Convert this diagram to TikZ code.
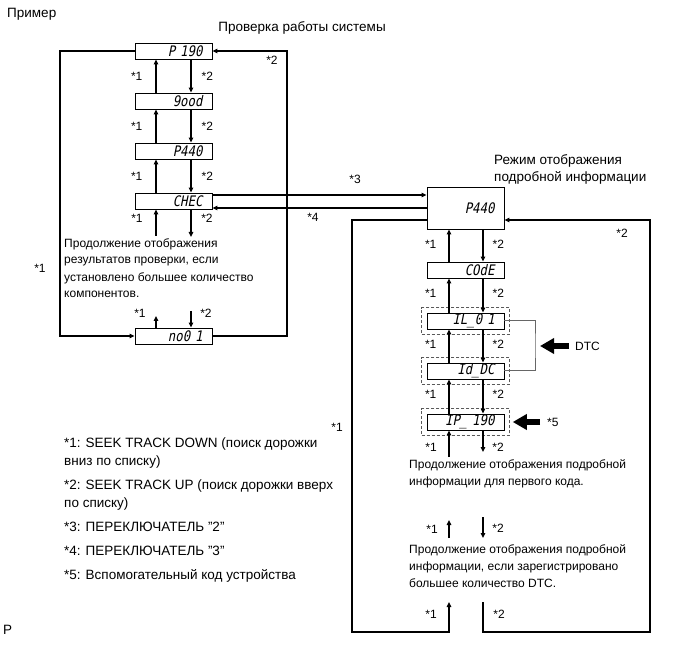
\documentclass[tikz,border=0pt]{standalone}
\usepackage{fontspec}
\setmainfont{Liberation Sans}
\newfontfamily\segfont[FakeSlant=0.2,FakeStretch=0.85]{DejaVu Sans Mono}
\usetikzlibrary{arrows.meta,positioning,fit,calc}

\begin{document}
\begin{tikzpicture}[x=1pt,y=-1pt,
    font=\fontsize{12}{17}\selectfont,
    disp/.style={draw,line width=0.9pt,minimum width=77pt,minimum height=16pt,
      inner sep=0pt,text width=58pt,align=right,
      font=\segfont\fontsize{14.5}{14}\selectfont},
    bigdisp/.style={disp,minimum height=42pt},
    flow/.style={line width=1.3pt,-{Triangle[length=5pt,width=4.5pt]}},
    loopflow/.style={line width=1.5pt,-{Triangle[length=5pt,width=4.5pt]}},
    star/.style={inner sep=0pt},
    head/.style={inner sep=0pt,font=\fontsize{13.5}{17}\selectfont},
    note/.style={inner sep=0pt,anchor=north west,align=left},
    dashbox/.style={draw,gray!70!black,line width=0.6pt,
      dash pattern=on 3pt off 2pt,inner sep=5pt},
    bigarrow/.style={line width=6.5pt,-{Triangle[length=14pt,width=15pt]}},
    bracket/.style={gray!80!black,line width=1pt}]

  \useasboundingbox (0,0) rectangle (691,660);

  % titles
  \node[head,anchor=west] (ex) at (7,14) {Пример};
  \node[head] (systitle) at (302,28) {Проверка работы системы};
  \node[head,note] (dettitle) at (494,154) {Режим отображения\\подробной информации};

  % columns of the up/down arrows
  \coordinate (lu) at (156,0);
  \coordinate (ld) at (191,0);
  \coordinate (ru) at (449,0);
  \coordinate (rd) at (483,0);

  % left column
  \node[disp] (p190) at (173.5,51) {P 190};
  \node[disp] (good) at (173.5,101) {9ood};
  \node[disp] (p440) at (173.5,151) {P440};
  \node[disp] (chec) at (173.5,201) {CHEC};
  \node[disp] (no01) at (173.5,336) {no0 1};

  \foreach \a/\b in {p190/good,good/p440,p440/chec}{
    \draw[flow] (\b.north -| lu) -- node[star,left=13pt]{*1} (\a.south -| lu);
    \draw[flow] (\a.south -| ld) -- node[star,right=10pt]{*2} (\b.north -| ld);
  }

  \coordinate (checu) at (156,236);
  \coordinate (checd) at (191,237);
  \draw[flow] (checu) -- (chec.south -| lu);
  \draw[flow] (chec.south -| ld) -- (checd);
  \node[star] at (137,218) {*1};
  \node[star] at (207,218) {*2};

  \node[note] (leftnote) at (64,238) {Продолжение отображения\\результатов проверки, если\\установлено большее количество\\компонентов.};

  \coordinate (no1u) at (156,316);
  \coordinate (no1d) at (191,311);
  \draw[flow] (no01.north -| lu) -- (no1u);
  \draw[flow] (no1d) -- (no01.north -| ld);
  \node[star] at (140,313) {*1};
  \node[star] at (206,313) {*2};

  % left loop
  \coordinate (lloop) at (60,200);
  \coordinate (rloop) at (287,200);
  \draw[loopflow] (p190.west) -| (lloop) |- (no01.west);
  \draw[loopflow] (no01.east) -| (rloop) |- (p190.east);
  \node[star] at (40,268) {*1};
  \node[star] at (272,60) {*2};

  % detail mode
  \node[bigdisp] (det) at (465.5,208) {P440};
  \draw[flow] ([yshift=6pt]chec.east) -- ([yshift=6pt]chec.east -| det.west);
  \draw[flow] ([yshift=-7pt]chec.east -| det.west) -- ([yshift=-7pt]chec.east);
  \node[star] at (355,179) {*3};
  \node[star] at (313,217) {*4};

  \node[disp] (code) at (465.5,270) {COdE};
  \node[disp] (il01) at (465.5,321) {IL\_0 1};
  \node[disp] (iddc) at (465.5,371) {Id\_DC};
  \node[disp] (ip190) at (465.5,422) {IP\_ 190};
  \node[dashbox,fit=(il01)] (ilf) {};
  \node[dashbox,fit=(iddc)] (idf) {};
  \node[dashbox,fit=(ip190)] (ipf) {};

  \foreach \a/\b in {det/code,code/il01,il01/iddc,iddc/ip190}{
    \draw[flow] (\b.north -| ru) -- node[star,left=12pt,pos=0.55]{*1} (\a.south -| ru);
    \draw[flow] (\a.south -| rd) -- node[star,right=9pt,pos=0.45]{*2} (\b.north -| rd);
  }

  % DTC bracket
  \coordinate (brk) at (535,346);
  \draw[bracket] (il01.east) -| (brk) |- (iddc.east);
  \node[star,anchor=west] (dtc) at (575,346) {DTC};
  \draw[bigarrow,shorten <=6pt,shorten >=5pt] (dtc.west) -- (brk);
  \node[star,anchor=west] (s5) at (547,422) {*5};
  \draw[bigarrow,shorten <=7pt,shorten >=3pt] (s5.west) -- (ipf.east);

  \coordinate (ipu) at (449,457);
  \coordinate (ipd) at (483,452);
  \draw[flow] (ipu) -- (ip190.south -| ru);
  \draw[flow] (ip190.south -| rd) -- (ipd);
  \node[star] at (431,447) {*1};
  \node[star] at (498,447) {*2};

  \node[note] (firstnote) at (409,459) {Продолжение отображения подробной\\информации для первого кода.};

  \coordinate (m1a) at (449,538);
  \coordinate (m1b) at (449,520);
  \coordinate (m2a) at (483,517);
  \coordinate (m2b) at (483,538);
  \draw[flow] (m1a) -- (m1b);
  \draw[flow] (m2a) -- (m2b);
  \node[star] at (432,529) {*1};
  \node[star] at (498,528) {*2};

  \node[note] (morenote) at (409,544) {Продолжение отображения подробной\\информации, если зарегистрировано\\большее количество DTC.};

  % right loop
  \coordinate (rbl) at (352,632);
  \coordinate (rbr) at (650,632);
  \coordinate (blu) at (449,602);
  \coordinate (brd) at (483,602);
  \draw[loopflow] ([yshift=-12pt]det.west) -| (rbl) -| (blu);
  \draw[loopflow] (brd) |- (rbr) |- ([yshift=-12pt]det.east);
  \node[star] at (431,614) {*1};
  \node[star] at (499,614) {*2};
  \node[star] at (337,427) {*1};
  \node[star] at (622,233) {*2};

  % legend
  \node[note,font=\fontsize{13.5}{18}\selectfont] (legend) at (64,438)
    {*1: SEEK TRACK DOWN (поиск дорожки\\вниз по списку)\\[6pt]
     *2: SEEK TRACK UP (поиск дорожки вверх\\по списку)\\[6pt]
     *3: ПЕРЕКЛЮЧАТЕЛЬ "2"\\[6pt]
     *4: ПЕРЕКЛЮЧАТЕЛЬ "3"\\[6pt]
     *5: Вспомогательный код устройства};

  \node[head,anchor=west] (pmark) at (3,630) {P};
\end{tikzpicture}
\end{document}
